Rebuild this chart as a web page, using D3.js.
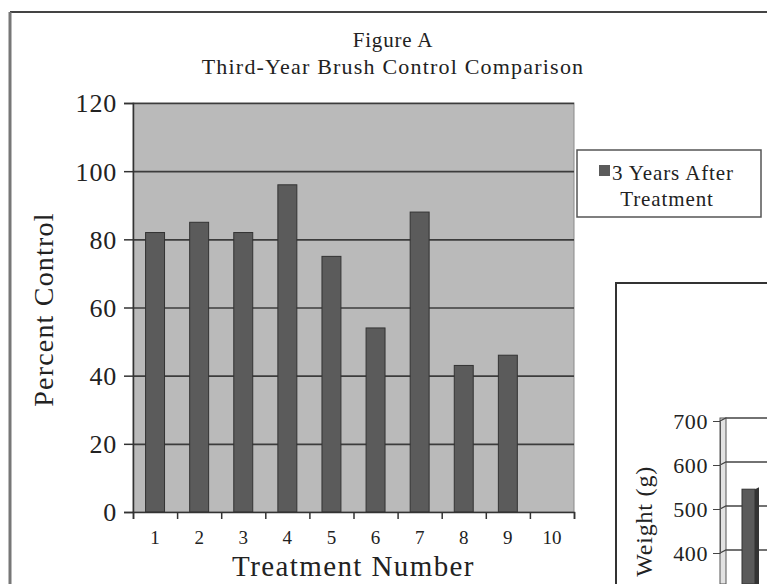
<!DOCTYPE html>
<html>
<head>
<meta charset="utf-8">
<script src="https://cdn.jsdelivr.net/npm/d3@7"></script>
<style>
  body { margin: 0; background: #fff; }
  svg text { font-family: "Liberation Serif", "DejaVu Serif", serif; fill: #222; }
</style>
</head>
<body>
<div id="chart"></div>
<script>
// chart values
const treatments = ["1", "2", "3", "4", "5", "6", "7", "8", "9", "10"];
const percentControl = [82, 85, 82, 96, 75, 54, 88, 43, 46, 0];
const yTicks = [0, 20, 40, 60, 80, 100, 120];
const seriesName = ["3 Years After", "Treatment"];

// second (cut off) figure in the corner
const weightTicks = [400, 500, 600, 700];
const weightBars = [545];

const width = 767, height = 584;

const svg = d3.select("#chart").append("svg")
    .attr("width", width)
    .attr("height", height);

// outer frame of figure A
svg.append("line").attr("x1", 10).attr("x2", width).attr("y1", 12).attr("y2", 12)
    .attr("stroke", "#444").attr("stroke-width", 2);
svg.append("line").attr("x1", 10).attr("x2", 10).attr("y1", 12).attr("y2", height)
    .attr("stroke", "#777").attr("stroke-width", 3);

// titles
svg.append("text").attr("x", 393).attr("y", 47).attr("text-anchor", "middle")
    .style("font-size", "21px").style("letter-spacing", "0.8px").text("Figure A");
svg.append("text").attr("x", 393).attr("y", 74).attr("text-anchor", "middle")
    .style("font-size", "22px").style("letter-spacing", "1.2px").text("Third-Year Brush Control Comparison");

// scales
const plot = { left: 133, right: 574, top: 103, bottom: 512 };

const x = d3.scaleBand()
    .domain(treatments)
    .range([plot.left, plot.right])
    .paddingInner(0.57)
    .paddingOuter(0.285);

const xEdge = d3.scaleLinear()
    .domain([0, treatments.length])
    .range([plot.left, plot.right]);

const y = d3.scaleLinear()
    .domain([0, 120])
    .range([plot.bottom, plot.top]);

// plot background
svg.append("rect")
    .attr("x", plot.left).attr("y", plot.top)
    .attr("width", plot.right - plot.left).attr("height", plot.bottom - plot.top)
    .attr("fill", "#bababa")
    .attr("stroke", "#8a8a8a");

// gridlines
const grid = svg.append("g")
    .attr("transform", `translate(${plot.left},0)`)
    .call(d3.axisLeft(y).tickValues(yTicks.slice(1)).tickSize(-(plot.right - plot.left)).tickFormat(""));
grid.select(".domain").remove();
grid.selectAll("line").attr("stroke", "#3c3c3c").attr("stroke-width", 1.6);

// bars
svg.append("g").selectAll("rect")
    .data(percentControl)
    .enter()
    .append("rect")
    .attr("x", (d, i) => x(treatments[i]))
    .attr("y", d => y(d))
    .attr("width", x.bandwidth())
    .attr("height", d => y(0) - y(d))
    .attr("fill", "#5b5b5b")
    .attr("stroke", "#333")
    .attr("stroke-width", 1);

// y axis
const yAxis = svg.append("g")
    .attr("transform", `translate(${plot.left},0)`)
    .call(d3.axisLeft(y).tickValues(yTicks).tickSize(9).tickPadding(7));
yAxis.select(".domain").attr("stroke", "#333").attr("stroke-width", 1.5);
yAxis.selectAll("line").attr("stroke", "#333").attr("stroke-width", 1.5);
yAxis.selectAll("text").style("font-size", "26px").style("letter-spacing", "0.8px").attr("dy", "0.34em");

// x axis: ticks on band edges, labels on band centres
const xTickAxis = svg.append("g")
    .attr("transform", `translate(0,${plot.bottom})`)
    .call(d3.axisBottom(xEdge).ticks(treatments.length).tickSize(7).tickFormat(""));
xTickAxis.select(".domain").attr("stroke", "#333").attr("stroke-width", 1.5);
xTickAxis.selectAll("line").attr("stroke", "#333").attr("stroke-width", 1.5);

const xAxis = svg.append("g")
    .attr("transform", `translate(0,${plot.bottom})`)
    .call(d3.axisBottom(x).tickSize(0).tickPadding(19));
xAxis.select(".domain").remove();
xAxis.selectAll("text").style("font-size", "19px");

// axis titles
svg.append("text")
    .attr("transform", `translate(53,${(plot.top + plot.bottom) / 2 + 2}) rotate(-90)`)
    .attr("text-anchor", "middle")
    .style("font-size", "28px")
    .style("letter-spacing", "1.2px")
    .text("Percent Control");

svg.append("text")
    .attr("x", (plot.left + plot.right) / 2)
    .attr("y", 576)
    .attr("text-anchor", "middle")
    .style("font-size", "29px")
    .style("letter-spacing", "1.4px")
    .text("Treatment Number");

// legend
const legend = svg.append("g");
legend.append("rect")
    .attr("x", 577).attr("y", 150).attr("width", 184).attr("height", 67)
    .attr("fill", "#fff").attr("stroke", "#555").attr("stroke-width", 1.5);
legend.append("rect")
    .attr("x", 599).attr("y", 165).attr("width", 11).attr("height", 11)
    .attr("fill", "#5b5b5b");
legend.append("text").attr("x", 612).attr("y", 180)
    .style("font-size", "21px").style("letter-spacing", "0.9px").text(seriesName[0]);
legend.append("text").attr("x", 667).attr("y", 206).attr("text-anchor", "middle")
    .style("font-size", "21px").style("letter-spacing", "0.9px").text(seriesName[1]);

// second figure, cut by the page edge
svg.append("path")
    .attr("d", `M616,${height}V283H${width}`)
    .attr("fill", "none").attr("stroke", "#333").attr("stroke-width", 2);

const w = d3.scaleLinear().domain([400, 700]).range([553, 421]);

svg.append("rect")
    .attr("x", 720).attr("y", 418).attr("width", 6).attr("height", height - 418)
    .attr("fill", "#e2e2e2").attr("stroke", "#555").attr("stroke-width", 1);

svg.append("g").selectAll("path")
    .data(weightTicks)
    .enter()
    .append("path")
    .attr("d", d => `M720,${w(d)}L726,${w(d) - 3}H${width}`)
    .attr("fill", "none").attr("stroke", "#444").attr("stroke-width", 1.3);

const wAxis = svg.append("g")
    .attr("transform", "translate(720,0)")
    .call(d3.axisLeft(w).tickValues(weightTicks).tickSize(7).tickPadding(5));
wAxis.select(".domain").attr("stroke", "#555");
wAxis.selectAll("line").attr("stroke", "#444");
wAxis.selectAll("text").style("font-size", "22px").style("letter-spacing", "0.6px").attr("dy", "0.34em");

const wBar = svg.append("g").selectAll("g")
    .data(weightBars)
    .enter()
    .append("g");
wBar.append("rect")
    .attr("x", 742).attr("y", d => w(d))
    .attr("width", 13).attr("height", d => height - w(d))
    .attr("fill", "#5a5a5a").attr("stroke", "#333");
wBar.append("path")
    .attr("d", d => `M755,${w(d)}L759,${w(d) - 2}V${height}H755Z`)
    .attr("fill", "#333");

svg.append("text")
    .attr("transform", "translate(652,466) rotate(-90)")
    .attr("text-anchor", "end")
    .style("font-size", "24px")
    .style("letter-spacing", "0.8px")
    .text("Weight (g)");
</script>
</body>
</html>
